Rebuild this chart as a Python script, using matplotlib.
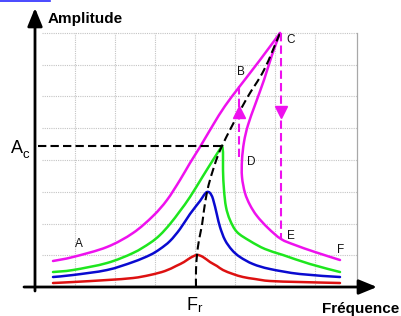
import matplotlib
matplotlib.use('Agg')
import numpy as np
import matplotlib.pyplot as plt
from matplotlib.lines import Line2D
from matplotlib.path import Path
from matplotlib.patches import PathPatch

plt.rcParams['font.family'] = ['Liberation Sans', 'DejaVu Sans']

# ---- data (frequency, amplitude) in grid units ----
red_f = [0.45, 0.95, 1.8, 2.45, 2.875, 3.25, 3.525, 3.725, 3.875, 4.05, 4.2, 4.375,
         4.55, 4.7, 4.95, 5.2, 5.5, 5.875, 6.625, 7.625]
red_a = [0.126, 0.157, 0.22, 0.283, 0.378, 0.504, 0.661, 0.787, 0.913, 1.008, 0.945, 0.787,
         0.661, 0.535, 0.409, 0.315, 0.252, 0.189, 0.157, 0.126]

blue_f = [0.45, 0.95, 1.8, 2.45, 2.875, 3.125, 3.375, 3.625, 3.875, 4.125, 4.225, 4.3, 4.375,
          4.45, 4.55, 4.625, 4.75, 4.925, 5.125, 5.45, 5.875, 6.625, 7.625]
blue_a = [0.315, 0.378, 0.535, 0.787, 1.008, 1.197, 1.449, 1.827, 2.299, 2.709, 2.898, 2.992,
          2.961, 2.772, 2.268, 1.89, 1.48, 1.165, 0.945, 0.724, 0.567, 0.409, 0.315]

# green: rising branch up to the peak, then falling branch from the peak
green_up_f = [0.45, 0.95, 1.8, 2.45, 2.875, 3.125, 3.375, 3.625, 3.875, 4.2, 4.45, 4.675]
green_up_a = [0.472, 0.535, 0.756, 1.071, 1.386, 1.638, 1.984, 2.394, 2.835, 3.496, 4.0, 4.441]
green_down_f = [4.675, 4.7, 4.7, 4.725, 4.775, 4.875, 5.05, 5.375, 5.75, 6.2, 6.875, 7.625]
green_down_a = [4.441, 4.252, 3.685, 3.055, 2.52, 2.11, 1.732, 1.449, 1.197, 1.008, 0.724, 0.472]

# magenta: upper branch A-B-C, lower branch C-D-E-F
mag_up_f = [0.45, 0.95, 1.8, 2.45, 2.95, 3.3, 3.625, 3.875, 4.125, 4.45, 4.75, 5.125, 5.625, 6.125]
mag_up_a = [0.819, 0.945, 1.26, 1.701, 2.236, 2.74, 3.37, 3.906, 4.41, 5.102, 5.701, 6.331,
            7.15, 8.0]
mag_low_f = [6.125, 5.925, 5.725, 5.5, 5.325, 5.225, 5.175, 5.175, 5.25, 5.375, 5.55, 5.825,
             6.15, 6.5, 7.0, 7.625]
mag_low_a = [8.0, 7.307, 6.52, 5.732, 5.102, 4.567, 4.0, 3.465, 2.961, 2.583, 2.236, 1.858,
             1.512, 1.323, 1.102, 0.85]

backbone_f = [4.025, 4.025, 4.05, 4.1, 4.175, 4.225, 4.3, 4.375, 4.45, 4.55, 4.675, 4.925, 5.3,
              5.725, 6.125]
backbone_a = [0.0, 0.535, 1.008, 1.48, 1.953, 2.425, 2.992, 3.37, 3.685, 4.063, 4.441, 5.071, 5.953,
              6.835, 8.0]

Ac = 4.441          # critical amplitude
Ac_f = 4.675        # frequency at critical amplitude
jump_up_f, jump_up_a = 5.1, [4.094, 6.425]
jump_down_f, jump_down_a = 6.15, [8.0, 1.512]

point_labels = ['A', 'B', 'C', 'D', 'E', 'F']
point_f = [1.1, 5.1375, 6.4, 5.4, 6.4, 7.65]
point_a = [1.26, 6.677, 7.685, 3.843, 1.5, 1.071]


def smooth_path(xs, ys):
    """Catmull-Rom spline through the points, expressed as cubic Bezier segments."""
    p = np.column_stack([xs, ys]).astype(float)
    n = len(p)
    verts = [p[0]]
    codes = [Path.MOVETO]
    for i in range(n - 1):
        p0 = p[i - 1] if i > 0 else p[i]
        p1, p2 = p[i], p[i + 1]
        p3 = p[i + 2] if i + 2 < n else p[i + 1]
        verts += [p1 + (p2 - p0) / 6.0, p2 - (p3 - p1) / 6.0, p2]
        codes += [Path.CURVE4] * 3
    return Path(verts, codes)


def draw_curve(ax, xs, ys, color, lw=1.8, **kw):
    patch = PathPatch(smooth_path(xs, ys), fill=False, edgecolor=color, lw=lw,
                      capstyle='round', joinstyle='round', zorder=kw.pop('zorder', 3), **kw)
    ax.add_patch(patch)


# ---- figure ----
fig = plt.figure(figsize=(4.02, 3.16), dpi=100)
ax = fig.add_axes([0, 0, 1, 1])
ax.set_xlim(-0.875, 9.175)
ax.set_ylim(-0.913, 9.039)
ax.axis('off')

gcol = '#c4c4c4'
for k in range(1, 8):
    ax.plot([k, k], [0, 8], color=gcol, lw=0.8, ls=(0, (1, 1)), zorder=1)
for k in range(1, 9):
    ax.plot([0.175, 8.05], [k, k], color=gcol, lw=0.8, ls=(0, (1, 1)), zorder=1)
ax.plot([8.05, 8.05], [0, 8], color='#a8a8a8', lw=0.9, zorder=1)

MAG = '#ee11ee'
draw_curve(ax, red_f, red_a, '#dd1111')
draw_curve(ax, blue_f, blue_a, '#0a0ad0')
draw_curve(ax, green_up_f, green_up_a, '#1ee61e')
draw_curve(ax, green_down_f, green_down_a, '#1ee61e')
draw_curve(ax, mag_up_f, mag_up_a, MAG)
draw_curve(ax, mag_low_f, mag_low_a, MAG)

bb = PathPatch(smooth_path(backbone_f, backbone_a), fill=False, edgecolor='black', lw=1.5,
               linestyle=(0, (4, 2)), zorder=4)
ax.add_patch(bb)
ax.plot([0.075, Ac_f], [Ac, Ac], color='black', lw=1.5, dashes=(4, 2), zorder=4)

ax.plot([jump_up_f, jump_up_f], jump_up_a, color=MAG, lw=1.5, dashes=(4, 2), zorder=4)
ax.plot([jump_down_f, jump_down_f], jump_down_a, color=MAG, lw=1.5, dashes=(4, 2), zorder=4)
ax.plot([jump_up_f], [5.5], marker='^', color=MAG, markersize=8, zorder=5)
ax.plot([jump_down_f], [5.5], marker='v', color=MAG, markersize=8, zorder=5)

for lab, f, a in zip(point_labels, point_f, point_a):
    ax.text(f, a, lab, fontsize=8.5, ha='center', va='baseline', color='#111111', zorder=6)

# axes with arrows
arrow = dict(arrowstyle='-|>,head_length=1.1,head_width=0.45', lw=2, color='black',
             shrinkA=0, shrinkB=0)
ax.annotate('', xy=(0, 8.787), xytext=(0, -0.126), arrowprops=arrow, zorder=7)
ax.annotate('', xy=(8.55, 0), xytext=(-0.275, 0), arrowprops=arrow, zorder=7)

ax.text(0.325, 8.315, 'Amplitude', fontsize=11, fontweight='bold', ha='left', va='baseline')
ax.text(7.175, -0.819, 'Fréquence', fontsize=11, fontweight='bold', ha='left', va='baseline')

ax.text(-0.6, 4.22, 'A', fontsize=13, ha='left', va='baseline')
ax.text(-0.3, 4.063, 'c', fontsize=9.5, ha='left', va='baseline')
ax.text(3.8, -0.724, 'F', fontsize=13, ha='left', va='baseline')
ax.text(4.05, -0.80, 'r', fontsize=9.5, ha='left', va='baseline')

# cropped hyperlink underline at the very top
fig.add_artist(Line2D([0, 50 / 402], [1 - 0.8 / 316, 1 - 0.8 / 316], color='#2a2aff', lw=1.2,
                      transform=fig.transFigure))

fig.savefig('out.png', dpi=100)
